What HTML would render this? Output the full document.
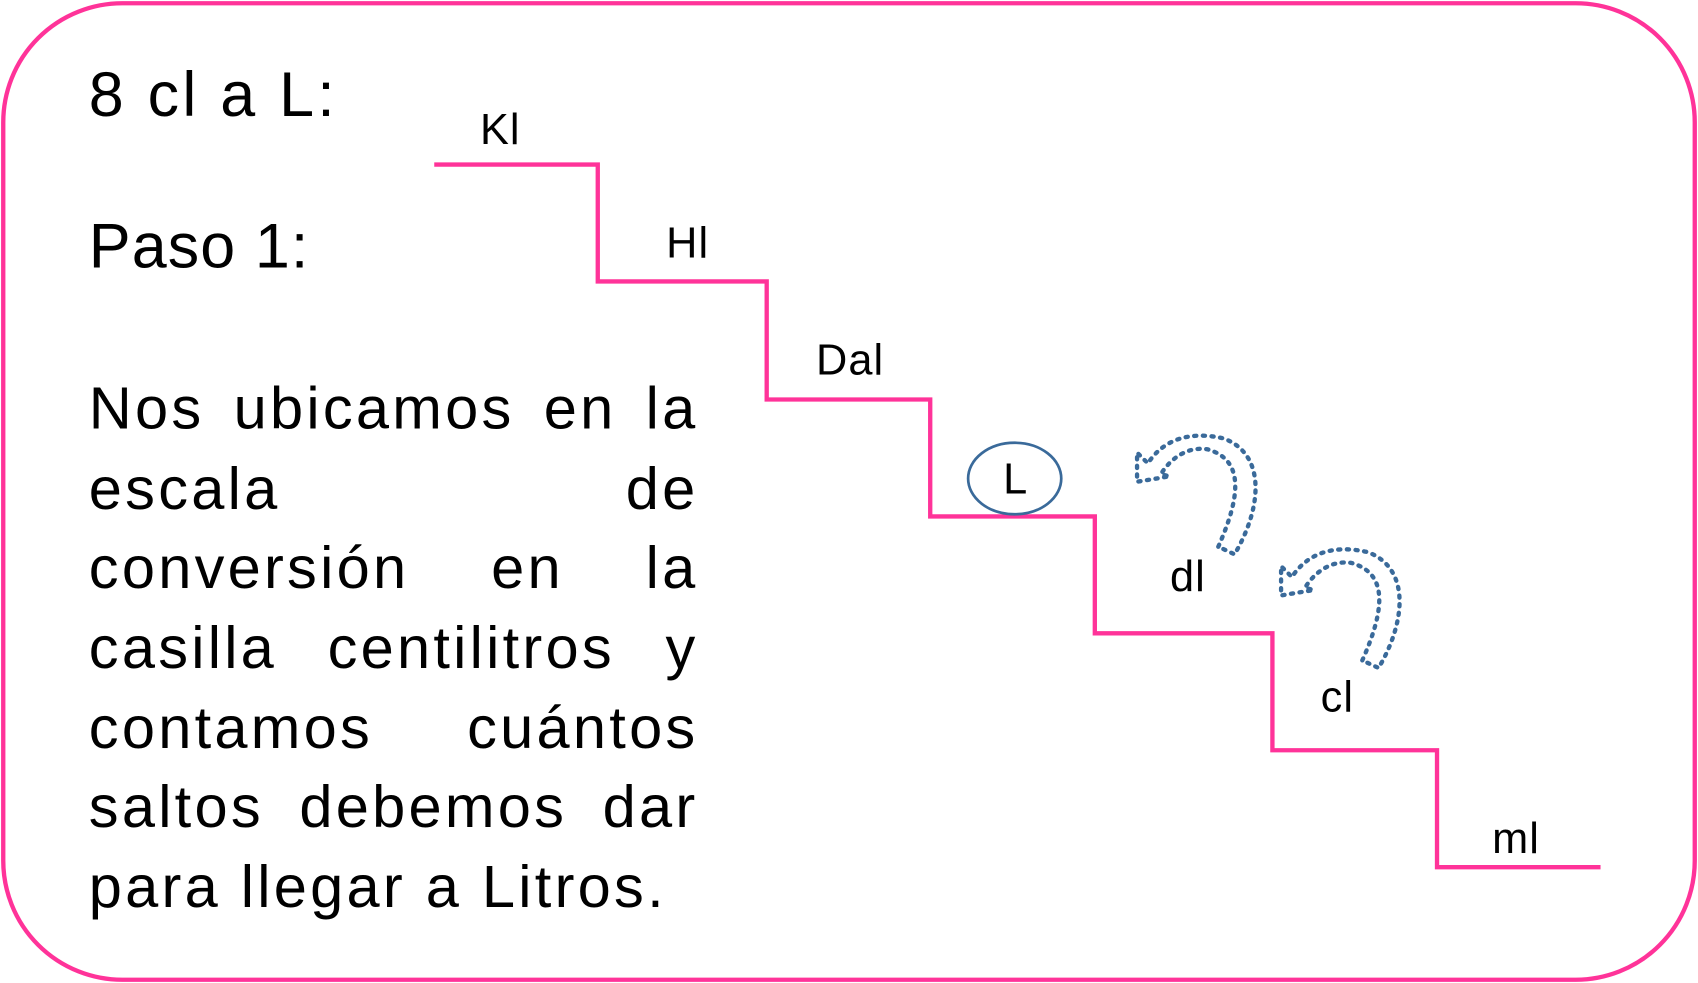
<!DOCTYPE html>
<html><head><meta charset="utf-8"><style>
html,body{margin:0;padding:0;background:#fff;width:1698px;height:983px;overflow:hidden}
#stage{position:absolute;left:0;top:0;width:1568px;height:908px;transform:scale(1.08291,1.08260);transform-origin:0 0;font-family:"Liberation Sans",sans-serif;color:#000}
.t{position:absolute;white-space:nowrap}
.line{position:absolute;left:82px;width:563px;font-size:55px;letter-spacing:3px;text-align:justify;text-align-last:justify;white-space:normal;height:74px;line-height:74px}
svg{position:absolute;left:0;top:0}
</style></head><body>
<div id="stage">
<svg width="1568" height="908">
<rect x="3" y="3" width="1562" height="902" rx="110" ry="110" fill="none" stroke="#ff3399" stroke-width="4"/>
<polyline fill="none" stroke="#ff3399" stroke-width="4" points="401,152 552,152 552,260 708,260 708,369 859,369 859,477 1011,477 1011,585 1175,585 1175,693 1327,693 1327,801 1478,801"/>
<ellipse cx="937" cy="442" rx="43" ry="33" fill="none" stroke="#3a6a9a" stroke-width="2.5"/>
<g fill="none" stroke="#3a6a9a" stroke-width="4" stroke-dasharray="2 6" stroke-linecap="round">
<path d="M1125,505 C1145,460 1150,425 1115,415 C1095,412 1080,425 1072,438 L1080,440 L1050,445 L1050,418 L1060,428 C1075,405 1100,398 1130,405 C1170,420 1165,470 1140,512 Z"/>
<path transform="translate(133,105)" d="M1125,505 C1145,460 1150,425 1115,415 C1095,412 1080,425 1072,438 L1080,440 L1050,445 L1050,418 L1060,428 C1075,405 1100,398 1130,405 C1170,420 1165,470 1140,512 Z"/>
</g>
<g font-family="Liberation Sans, sans-serif" font-size="40" fill="#000" text-anchor="middle" letter-spacing="1">
<text x="462" y="133">Kl</text>
<text x="635" y="238">Hl</text>
<text x="785" y="346">Dal</text>
<text x="938" y="456">L</text>
<text x="1097" y="546">dl</text>
<text x="1235" y="657">cl</text>
<text x="1400" y="788">ml</text>
</g>
</svg>
<div class="t" style="left:82px;top:54px;font-size:58px;letter-spacing:3px">8 cl a L:</div>
<div class="t" style="left:82px;top:194px;font-size:58px;letter-spacing:1px">Paso 1:</div>
<div>
<div class="line" style="top:340px">Nos ubicamos en la</div>
<div class="line" style="top:414px">escala de</div>
<div class="line" style="top:487px">conversión en la</div>
<div class="line" style="top:561px">casilla centilitros y</div>
<div class="line" style="top:635px">contamos cuántos</div>
<div class="line" style="top:708px">saltos debemos dar</div>
<div class="t" style="left:82px;top:782px;font-size:55px;letter-spacing:3px;line-height:74px">para llegar a Litros.</div>
</div>
</div>
</body></html>
